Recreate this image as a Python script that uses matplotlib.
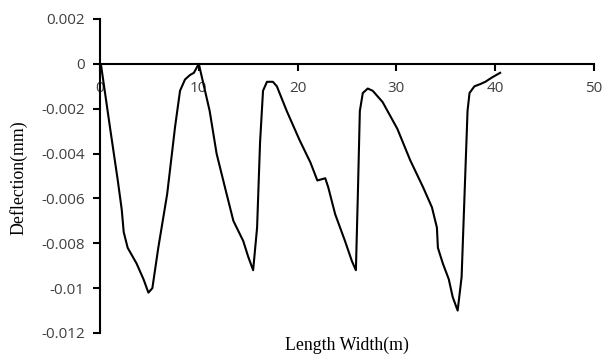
import matplotlib.pyplot as plt

# deflection profile
length = [0, 0.1, 1.0, 1.8, 2.2, 2.4, 2.8, 3.7, 4.4, 4.9, 5.3, 5.9, 6.8, 7.6, 8.1, 8.6, 9.1, 9.5,
          10.0, 11.1, 11.8, 12.7, 13.5, 14.5, 15.0, 15.5, 15.9, 16.2, 16.5, 16.9, 17.5, 17.9,
          18.9, 20.2, 21.3, 22.0, 22.8, 23.1, 23.8, 24.8, 25.5, 25.9, 26.1, 26.3, 26.6, 27.1,
          27.6, 28.6, 30.1, 31.4, 32.7, 33.6, 34.1, 34.2, 34.7, 35.3, 35.7, 36.2, 36.6, 36.9,
          37.2, 37.4, 37.9, 38.5, 39.0, 39.7, 40.5]
deflection = [0, -0.00004, -0.0028, -0.0052, -0.0065, -0.0075, -0.0082, -0.0089, -0.0096, -0.0102,
              -0.0100, -0.0082, -0.0058, -0.0028, -0.0012, -0.0007, -0.0005, -0.0004,
              0, -0.0021, -0.0040, -0.0056, -0.0070, -0.0079, -0.0086, -0.0092, -0.0073,
              -0.0035, -0.0012, -0.0008, -0.0008, -0.0010,
              -0.0021, -0.0034, -0.0044, -0.0052, -0.0051, -0.0055, -0.0067, -0.0079, -0.0088,
              -0.0092, -0.0058, -0.0021, -0.0013, -0.0011,
              -0.0012, -0.0017, -0.0029, -0.0043, -0.0055, -0.0064, -0.0073, -0.0082, -0.0089,
              -0.0096, -0.0104, -0.0110, -0.0095, -0.0058,
              -0.0021, -0.0013, -0.0010, -0.0009, -0.0008, -0.0006, -0.0004]

x_ticks = [0, 10, 20, 30, 40, 50]
y_ticks = [0.002, 0, -0.002, -0.004, -0.006, -0.008, -0.01, -0.012]
y_labels = ["0.002", "0", "-0.002", "-0.004", "-0.006", "-0.008", "-0.01", "-0.012"]

fig = plt.figure(figsize=(6.05, 3.56), dpi=100)
ax = fig.add_axes([100 / 605, 1 - 333 / 356, 494 / 605, 314 / 356])

ax.plot(length, deflection, color="black", lw=1.5, solid_joinstyle="round")

ax.set_xlim(0, 50)
ax.set_ylim(-0.012, 0.002)
ax.set_xticks(x_ticks)
ax.set_xticklabels([str(t) for t in x_ticks])
ax.set_yticks(y_ticks)
ax.set_yticklabels(y_labels)

ax.spines["top"].set_visible(False)
ax.spines["right"].set_visible(False)
ax.spines["bottom"].set_position(("data", 0))
ax.spines["bottom"].set_linewidth(1.5)
ax.spines["left"].set_linewidth(1.5)
ax.tick_params(axis="both", direction="out", length=5, width=1.5,
               labelsize=11, labelcolor="#404040")
ax.tick_params(axis="x", pad=7)
ax.tick_params(axis="y", pad=6)
for lab in ax.get_xticklabels() + ax.get_yticklabels():
    lab.set_fontfamily("Open Sans")

fig.text(19 / 605, 1 - 178 / 356, "Deflection(mm)", ha="center", va="center", rotation=90,
         fontfamily="Liberation Serif", fontsize=12.8)
fig.text(347 / 605, 1 - 345 / 356, "Length Width(m)", ha="center", va="center",
         fontfamily="Liberation Serif", fontsize=12.8)

fig.savefig("out.png", dpi=100)
